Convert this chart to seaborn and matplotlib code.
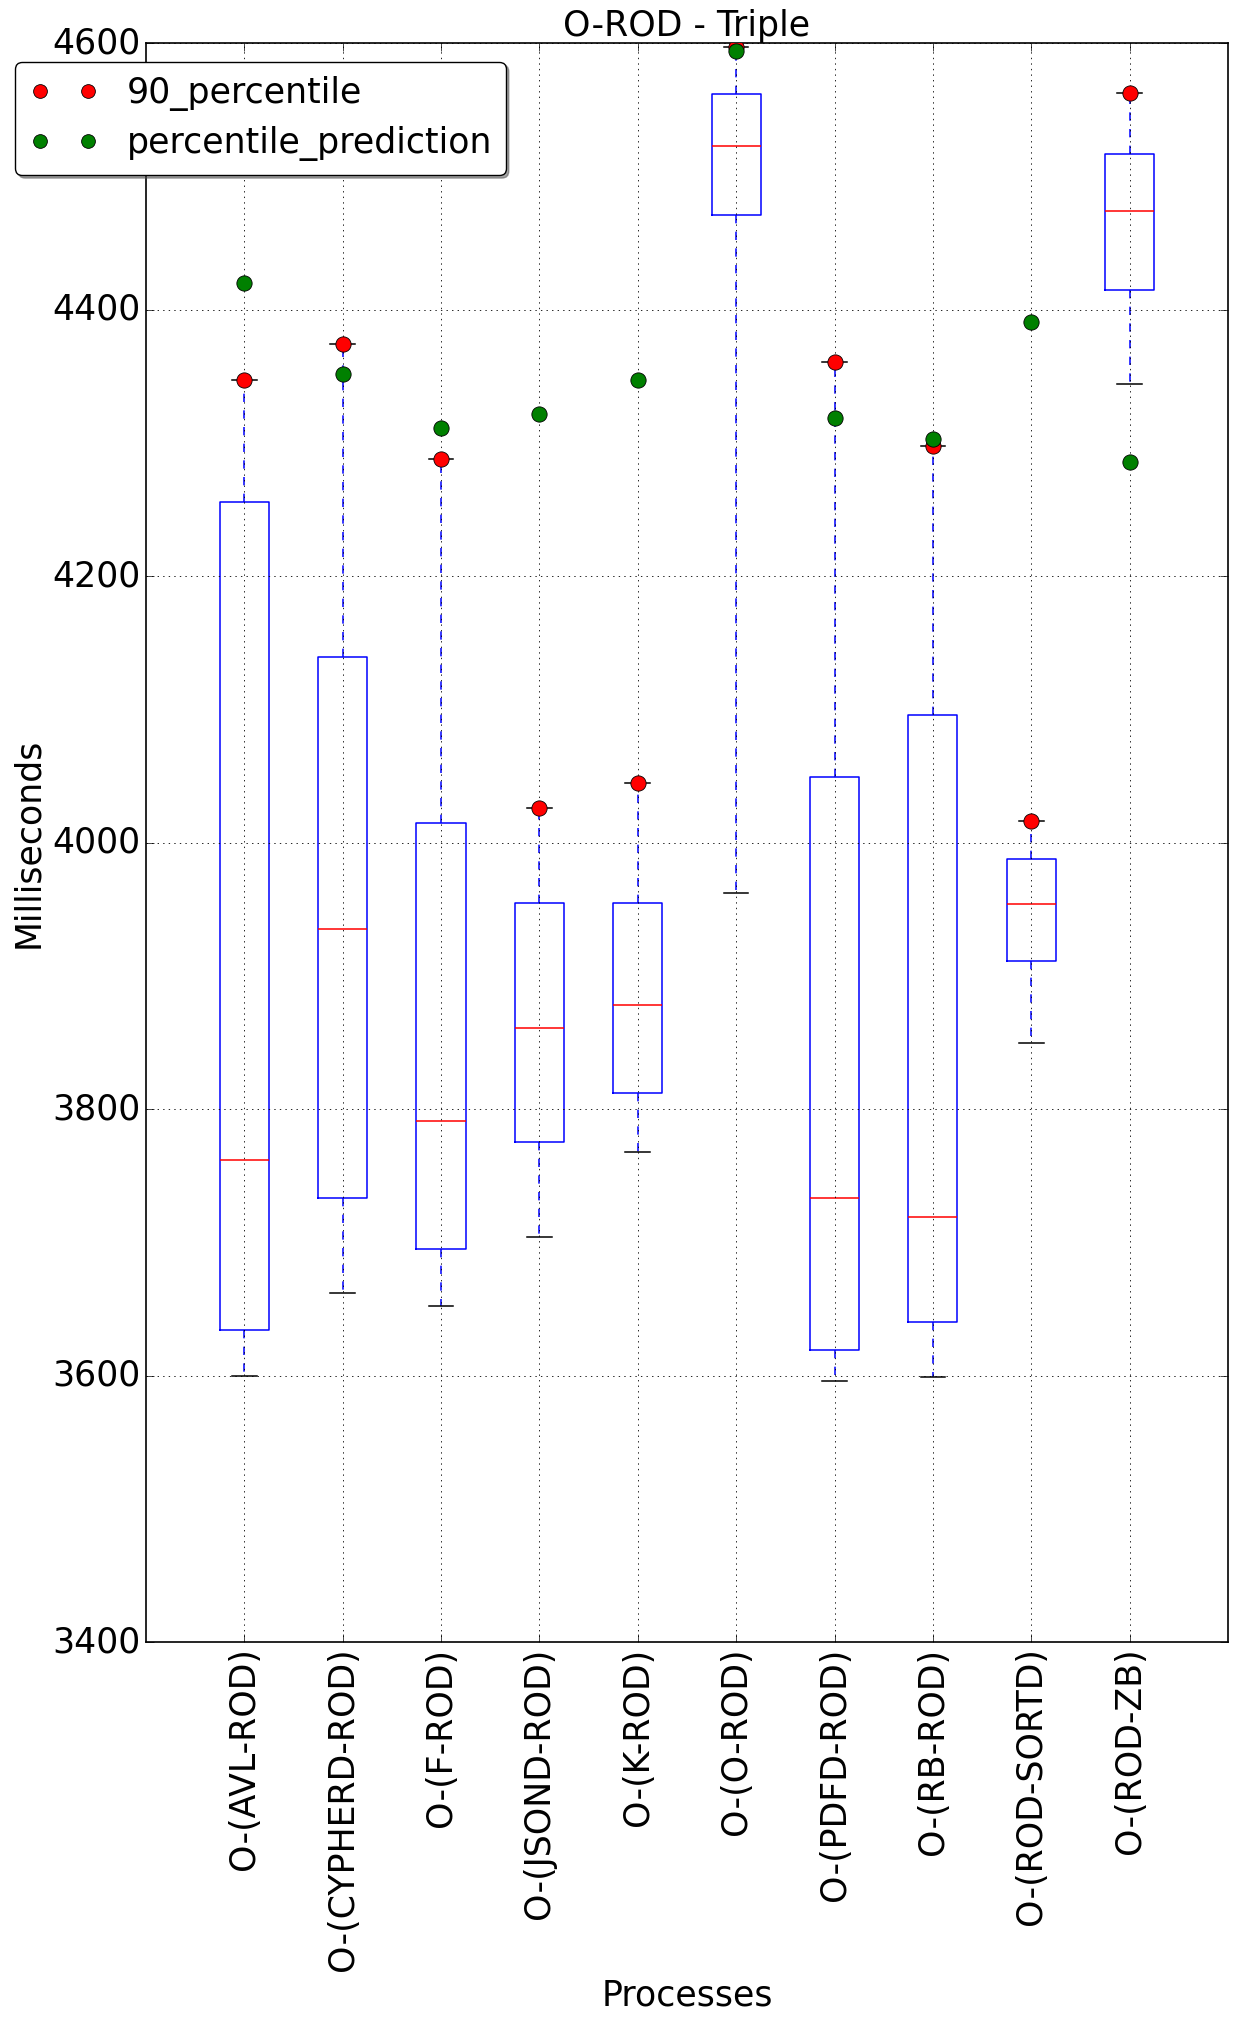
import numpy as np
import pandas as pd
import matplotlib
matplotlib.use("Agg")
import matplotlib.pyplot as plt
from matplotlib.lines import Line2D
import seaborn as sns

# ---- data ----
processes = ["O-(AVL-ROD)", "O-(CYPHERD-ROD)", "O-(F-ROD)", "O-(JSOND-ROD)", "O-(K-ROD)",
             "O-(O-ROD)", "O-(PDFD-ROD)", "O-(RB-ROD)", "O-(ROD-SORTD)", "O-(ROD-ZB)"]
whisker_low = [3600, 3662, 3652, 3704, 3768, 3962, 3596, 3599, 3850, 4344]
q1 = [3634, 3733, 3695, 3775, 3812, 4471, 3619, 3640, 3911, 4415]
median = [3762, 3935, 3791, 3861, 3878, 4523, 3733, 3719, 3954, 4474]
q3 = [4256, 4139, 4015, 3955, 3955, 4562, 4049, 4096, 3988, 4517]
whisker_high = [4347, 4374, 4288, 4026, 4045, 4597, 4361, 4298, 4016, 4563]
p90 = [4347, 4374, 4288, 4026, 4045, 4597, 4361, 4298, 4016, 4563]
prediction = [4420, 4352, 4311, 4322, 4347, 4594, 4319, 4303, 4391, 4286]
yticks = [3400, 3600, 3800, 4000, 4200, 4400, 4600]
series_labels = ["90_percentile", "percentile_prediction"]
series_colors = ["red", "green"]

# long-form data whose quartiles reproduce the box statistics exactly
rows = []
for i, p in enumerate(processes):
    for v in (whisker_low[i], q1[i], median[i], q3[i], whisker_high[i]):
        rows.append({"process": p, "ms": v})
df = pd.DataFrame(rows)

plt.style.use("classic")
plt.rcParams["font.family"] = ["DejaVu Sans"]
FS = 25
MS = 11

fig = plt.figure(figsize=(12.39, 20.23), dpi=100, facecolor="white")
ax = fig.add_axes([0.1178, 0.1883, 0.9911 - 0.1178, 0.9786 - 0.1883])
ax.set_facecolor("white")

sns.boxplot(data=df, x="process", y="ms", order=processes, whis=(0, 100), width=0.5,
            fill=False, color="blue", linewidth=1.1, showfliers=False,
            boxprops=dict(color="blue"),
            whiskerprops=dict(color="blue", linestyle="--"),
            capprops=dict(color="black"),
            medianprops=dict(color="red"),
            ax=ax)

for vals, col, z in ((p90, series_colors[0], 5), (prediction, series_colors[1], 6)):
    sns.stripplot(x=processes, y=vals, order=processes, jitter=False, color=col, size=MS,
                  edgecolor="black", linewidth=0.6, zorder=z, ax=ax)

ax.set_xlim(-1, len(processes))
ax.set_ylim(3400, 4600)
ax.set_yticks(yticks)
ax.set_xticks(range(len(processes)))
ax.set_xticklabels(processes, rotation=90, fontsize=FS)
ax.tick_params(axis="y", labelsize=FS)
ax.tick_params(direction="in", top=True, right=True, length=6)
ax.grid(True, color="black", linestyle=":", linewidth=0.6)
ax.set_axisbelow(False)
for s in ax.spines.values():
    s.set_linewidth(1.2)
    s.set_color("black")

ax.set_title("O-ROD - Triple", fontsize=FS, pad=5)
ax.set_xlabel("Processes", fontsize=FS)
ax.set_ylabel("Milliseconds", fontsize=FS)

handles = [Line2D([], [], linestyle="none", marker="o", markersize=MS * 0.9,
                  markerfacecolor=c, markeredgecolor="black", markeredgewidth=0.6)
           for c in series_colors]
leg = ax.legend(handles, series_labels, loc="upper left", bbox_to_anchor=(0.0125, 0.9694),
                bbox_transform=fig.transFigure, borderaxespad=0, fontsize=FS,
                numpoints=2, fancybox=True, shadow=True, framealpha=1,
                edgecolor="black", labelspacing=0.45, handletextpad=0.8)

fig.savefig("out.png", dpi=100, facecolor="white")
